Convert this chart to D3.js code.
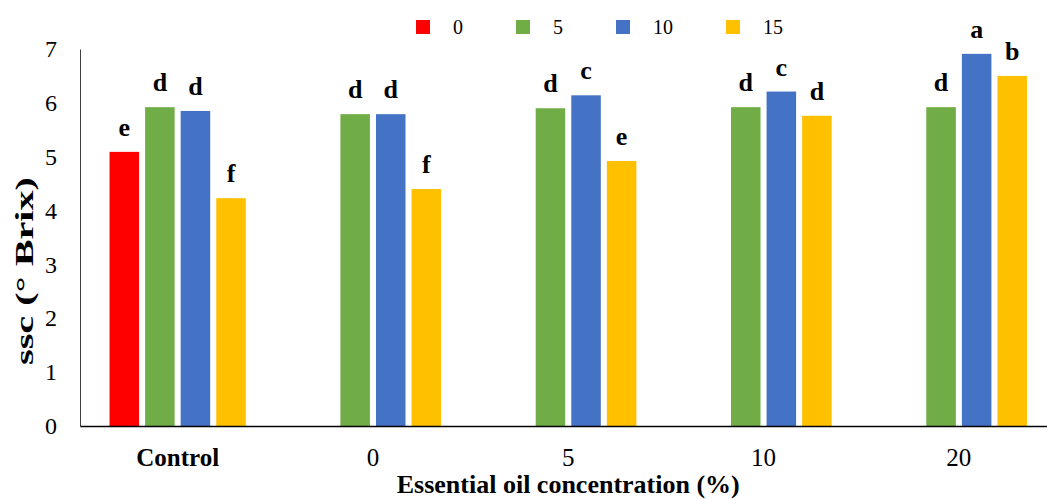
<!DOCTYPE html>
<html>
<head>
<meta charset="utf-8">
<script src="https://cdn.jsdelivr.net/npm/d3@7.9.0/dist/d3.min.js"></script>
<style>
  body { margin: 0; background: #fff; }
  svg { display: block; font-family: "Liberation Serif", "Times New Roman", serif; }
</style>
</head>
<body>
<svg id="chart" width="1047" height="499"></svg>
<script>
// data
const groups = ['Control', '0', '5', '10', '20'];
const series = ['0', '5', '10', '15'];
const colors = ['#FF0000', '#70AD47', '#4472C4', '#FFC000'];
const ssc0  = [5.09, null, null, null, null];
const ssc5  = [5.92, 5.79, 5.90, 5.92, 5.92];
const ssc10 = [5.85, 5.79, 6.14, 6.21, 6.91];
const ssc15 = [4.23, 4.40, 4.92, 5.76, 6.50];
const let0  = ['e', '', '', '', ''];
const let5  = ['d', 'd', 'd', 'd', 'd'];
const let10 = ['d', 'd', 'c', 'c', 'a'];
const let15 = ['f', 'f', 'e', 'd', 'b'];
const yTicks = [0, 1, 2, 3, 4, 5, 6, 7];

const values = [ssc0, ssc5, ssc10, ssc15];
const letters = [let0, let5, let10, let15];

const svg = d3.select('#chart');
const plotLeft = 80, plotRight = 1056.5, plotTop = 49, plotBottom = 426;

let x0 = d3.scaleBand().domain(groups).range([plotLeft, plotRight]).padding(0);
let x1 = d3.scaleBand().domain(series).range([0, x0.bandwidth()])
  .paddingInner(0.17).paddingOuter(0.83);
let y = d3.scaleLinear().domain([0, 7]).range([plotBottom, plotTop]);
let color = d3.scaleOrdinal().domain(series).range(colors);

// flatten to one record per bar
let bars = [];
groups.forEach((g, gi) => {
  series.forEach((s, si) => {
    if (values[si][gi] != null) {
      bars.push({ group: g, series: s, value: values[si][gi], letter: letters[si][gi] });
    }
  });
});

svg.append('g')
  .selectAll('rect')
  .data(bars)
  .join('rect')
  .attr('x', d => x0(d.group) + x1(d.series))
  .attr('y', d => y(d.value))
  .attr('width', x1.bandwidth())
  .attr('height', d => y(0) - y(d.value))
  .attr('fill', d => color(d.series));

// significance letters
svg.append('g')
  .selectAll('text')
  .data(bars)
  .join('text')
  .attr('x', d => x0(d.group) + x1(d.series) + x1.bandwidth() / 2)
  .attr('y', d => y(d.value) - 16)
  .attr('text-anchor', 'middle')
  .attr('font-weight', 'bold')
  .attr('font-size', 26)
  .text(d => d.letter);

// y axis
let yAxis = svg.append('g')
  .attr('transform', `translate(${plotLeft},0)`)
  .call(d3.axisLeft(y).tickValues(yTicks).tickFormat(d3.format('d')).tickSize(0).tickPadding(23))
  .attr('font-family', null)
  .attr('font-size', 24);
yAxis.select('.domain').attr('stroke', '#404040').attr('stroke-width', 1);
yAxis.selectAll('text').attr('fill', '#000');

// x axis
let xAxis = svg.append('g')
  .attr('transform', `translate(0,${plotBottom})`)
  .call(d3.axisBottom(x0).tickSize(0).tickPadding(22))
  .attr('font-family', null)
  .attr('font-size', 25);
xAxis.select('.domain').attr('stroke', '#000').attr('stroke-width', 1.6);
xAxis.selectAll('text')
  .attr('fill', '#000')
  .attr('font-weight', d => d === 'Control' ? 'bold' : 'normal');

// axis titles
svg.append('text')
  .attr('x', (plotLeft + plotRight) / 2)
  .attr('y', 493)
  .attr('text-anchor', 'middle')
  .attr('font-weight', 'bold')
  .attr('font-size', 26)
  .text('Essential oil concentration (%)');

svg.append('text')
  .attr('transform', 'translate(33,271) rotate(-90)')
  .attr('text-anchor', 'middle')
  .attr('font-weight', 'bold')
  .attr('font-size', 26)
  .attr('textLength', 188)
  .attr('lengthAdjust', 'spacingAndGlyphs')
  .text('ssc (° Brix)');

// legend
let lx = 416;
series.forEach((s, i) => {
  let item = svg.append('g').attr('transform', `translate(${lx},20)`);
  item.append('rect').attr('width', 14).attr('height', 14).attr('fill', color(s));
  let t = item.append('text')
    .attr('x', 37).attr('y', 14)
    .attr('font-size', 20)
    .text(s);
  lx += 37 + t.node().getComputedTextLength() + 53;
});
</script>
</body>
</html>
